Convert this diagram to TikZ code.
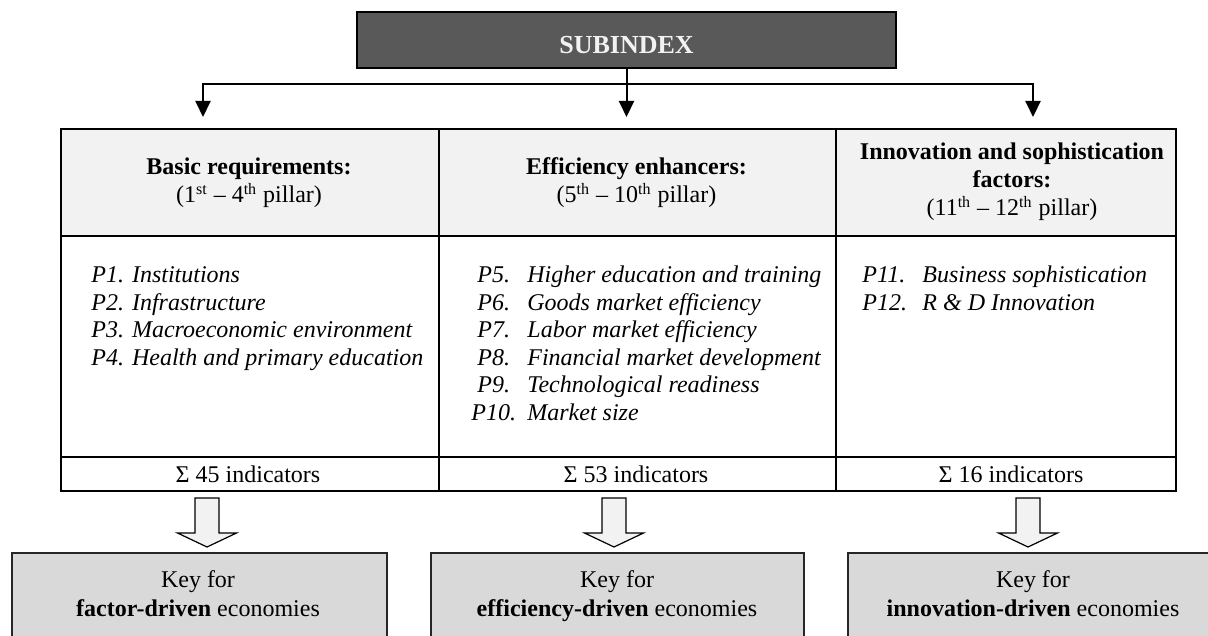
\documentclass[tikz,border=0pt]{standalone}
\usepackage{fontspec}
\setmainfont{Liberation Serif}
\usetikzlibrary{arrows.meta}
\definecolor{subfill}{HTML}{595959}
\definecolor{hdrfill}{HTML}{F2F2F2}
\definecolor{keyfill}{HTML}{D9D9D9}
\definecolor{arrfill}{HTML}{F2F2F2}
\tikzset{
  txt/.style={font=\fontsize{12}{14}\selectfont, inner sep=0pt},
  hdr/.style={txt, align=center},
  item/.style={txt, anchor=mid west, font=\fontsize{12}{14}\selectfont\itshape},
  tbl/.style={line width=1pt, line cap=rect},
  keybox/.style={draw=black!85, line width=0.75pt, fill=keyfill},
  keytxt/.style={txt, align=center, font=\fontsize{12}{14.5}\selectfont},
  conn/.style={line width=1pt, {Triangle[width=7.5pt,length=8pt]}-{Triangle[width=7.5pt,length=8pt]}},
  conn1/.style={line width=1pt, -{Triangle[width=7.5pt,length=8pt]}},
  harrow/.pic={\draw[line width=0.6pt, fill=arrfill, line join=miter]
     (-12,0) -- (12,0) -- (12,35) -- (29.5,35) -- (0,49) -- (-29.5,35) -- (-12,35) -- cycle;}
}
\begin{document}
\begin{tikzpicture}[x=0.5pt,y=-0.5pt]
\clip (0,0) rectangle (1208,636);
\fill[white] (0,0) rectangle (1208,636);

% top box
\node[draw=black, line width=0.75pt, fill=subfill, text=hdrfill, minimum width=269.5pt,
      minimum height=28pt, inner sep=0pt, text height=13.2pt, text depth=0pt,
      font=\fontsize{13}{15}\selectfont\bfseries]
      (sub) at (626.5,40) {SUBINDEX};

% connectors
\coordinate (hl) at (203,84);
\coordinate (hr) at (1033,84);
\coordinate (t1) at (203,117);
\coordinate (t2) at (626.5,117);
\coordinate (t3) at (1033,117);
\draw[conn, line join=miter] (t1) -- (hl) -- (hr) -- (t3);
\draw[conn1] (sub.south) -- (t2);

% table
\fill[hdrfill] (61,129) rectangle (1176,236);
\draw[tbl] (61,129) rectangle (1176,491);
\draw[tbl] (61,236) -- (1176,236);
\draw[tbl] (61,457) -- (1176,457);
\draw[tbl] (439,129) -- (439,491);
\draw[tbl] (836,129) -- (836,491);

\node[hdr] (h1) at (249,183) {\textbf{Basic requirements:}\\(1\textsuperscript{st} – 4\textsuperscript{th} pillar)};
\node[hdr] (h2) at (636.5,183) {\textbf{Efficiency enhancers:}\\(5\textsuperscript{th} – 10\textsuperscript{th} pillar)};
\node[hdr] (h3) at (1012,182) {\textbf{Innovation and sophistication}\\\textbf{factors:}\\(11\textsuperscript{th} – 12\textsuperscript{th} pillar)};

% column 1
\node[item] (p1) at (91,278) {P1. Institutions};
\node[item] (p2) at (91,306) {P2. Infrastructure};
\node[item] (p3) at (91,333) {P3. Macroeconomic environment};
\node[item] (p4) at (91,361) {P4. Health and primary education};

% column 2
\node[item] (l5) at (477,278) {P5.};
\node[item] (p5) at (527,278) {Higher education and training};
\node[item] (l6) at (477,306) {P6.};
\node[item] (p6) at (527,306) {Goods market efficiency};
\node[item] (l7) at (477,333) {P7.};
\node[item] (p7) at (527,333) {Labor market efficiency};
\node[item] (l8) at (477,361) {P8.};
\node[item] (p8) at (527,361) {Financial market development};
\node[item] (l9) at (477,388) {P9.};
\node[item] (p9) at (527,388) {Technological readiness};
\node[item] (l10) at (471,416) {P10.};
\node[item] (p10) at (527,416) {Market size};

% column 3
\node[item] (l11) at (862,278) {P11.};
\node[item] (p11) at (922,278) {Business sophistication};
\node[item] (l12) at (862,306) {P12.};
\node[item] (p12) at (922,306) {R \& D Innovation};

% sums
\node[txt] (s1) at (248,474) {Σ 45 indicators};
\node[txt] (s2) at (636,474) {Σ 53 indicators};
\node[txt] (s3) at (1011,474) {Σ 16 indicators};

% hollow arrows
\pic at (207,498) {harrow};
\pic at (614,498) {harrow};
\pic at (1028,498) {harrow};

% bottom boxes
\draw[keybox] (12,553) rectangle (387,690);
\draw[keybox] (431,553) rectangle (804,690);
\draw[keybox] (848,553) rectangle (1218,690);
\node[keytxt] (k1) at (198,596) {Key for\strut\\\textbf{factor-driven} economies\strut};
\node[keytxt] (k2) at (617,596) {Key for\strut\\\textbf{efficiency-driven} economies\strut};
\node[keytxt] (k3) at (1033,596) {Key for\strut\\\textbf{innovation-driven} economies\strut};
\end{tikzpicture}
\end{document}
